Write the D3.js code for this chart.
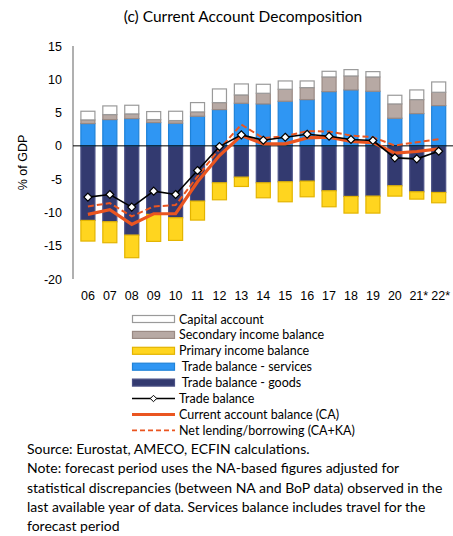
<!DOCTYPE html>
<meta charset="utf-8">
<style>
  body { margin: 0; background: #fff; }
  text { font-family: 'Liberation Sans', Arial, sans-serif; fill: #000; }
  .cal { font-family: Lato, 'Open Sans', sans-serif; }
</style>
<body>
<script src="https://cdn.jsdelivr.net/npm/d3@7"></script>
<script>

// categories (years)
var years = ["06","07","08","09","10","11","12","13","14","15","16","17","18","19","20","21*","22*"];

// stacked components, % of GDP
var goods     = [-11.2,-11.4,-13.4,-10.3,-10.8,-8.3,-5.55,-4.7,-5.55,-5.4,-5.3,-6.75,-7.6,-7.55,-6.0,-6.9,-7.0];
var primary   = [-3.1,-3.15,-3.4,-4.05,-3.4,-2.85,-2.55,-1.4,-2.25,-3.0,-2.35,-2.4,-2.5,-2.55,-1.55,-1.1,-1.55];
var services  = [3.35,3.95,4.1,3.5,3.4,4.45,5.45,6.4,6.3,6.7,6.95,8.15,8.4,8.2,4.15,4.85,6.05];
var secondary = [0.55,0.75,0.7,0.45,0.4,0.65,1.05,1.25,1.6,1.8,1.8,2.2,2.1,2.15,2.15,2.1,2.0];
var capital   = [1.3,1.3,1.3,1.2,1.4,1.4,2.05,1.65,1.35,1.25,1.0,0.85,0.95,0.8,1.3,1.45,1.55];

// lines
var tradeBal  = [-7.7,-7.3,-9.2,-6.8,-7.3,-3.7,-0.1,1.65,0.85,1.3,1.75,1.45,0.95,0.8,-1.8,-1.95,-0.8];
var caBal     = [-10.3,-9.6,-11.8,-10.2,-10.2,-5.4,-1.45,1.55,0.3,0.3,1.2,1.3,0.65,0.5,-1.1,-0.85,-0.45];
var netLend   = [-9.1,-8.6,-10.6,-9.1,-8.9,-4.6,-0.45,3.2,1.15,1.45,2.2,2.15,1.55,1.3,0.05,0.55,1.0];

var yTicks = [15,10,5,0,-5,-10,-15,-20];

var W = 453, H = 536;
var svg = d3.select("body").append("svg")
    .attr("width", W)
    .attr("height", H);

var x = d3.scaleBand()
    .domain(years)
    .range([73, 453.6])
    .padding(0.36);
var y = d3.scaleLinear()
    .domain([-20, 15])
    .range([279, 46]);

// title
svg.append("text")
    .attr("class", "cal")
    .attr("x", 243).attr("y", 22)
    .attr("text-anchor", "middle")
    .style("font-size", "15.5px")
    .text("(c) Current Account Decomposition");

// y axis
svg.append("line")
    .attr("x1", 73).attr("x2", 73)
    .attr("y1", y(15)).attr("y2", y(-20))
    .attr("stroke", "#868686").attr("stroke-width", 1.3);
svg.selectAll(".ytick")
    .data(yTicks)
  .enter().append("text")
    .attr("class", "ytick")
    .attr("x", 62)
    .attr("y", function(d) { return y(d) + 4.5; })
    .attr("text-anchor", "end")
    .style("font-size", "12.5px")
    .text(function(d) { return d; });

svg.append("text")
    .attr("transform", "translate(27," + y(-2.5) + ") rotate(-90)")
    .attr("text-anchor", "middle")
    .style("font-size", "12.5px")
    .text("% of GDP");

// stacked bars
var series = [
  {name: "goods", vals: goods, fill: "#333a70", stroke: "#4a5085"},
  {name: "primary", vals: primary, fill: "#ffd51f", stroke: "#e3b400"},
  {name: "services", vals: services, fill: "#2f96f3", stroke: "#1f82d8"},
  {name: "secondary", vals: secondary, fill: "#b7a9a4", stroke: "#9a8a84"},
  {name: "capital", vals: capital, fill: "#ffffff", stroke: "#9a9a9a"}
];

var pos = years.map(function() { return 0; }),
    neg = years.map(function() { return 0; });

series.forEach(function(s) {
  var segs = s.vals.map(function(v, i) {
    var base;
    if (v >= 0) { base = pos[i]; pos[i] += v; return {i: i, y0: base, y1: pos[i]}; }
    base = neg[i]; neg[i] += v; return {i: i, y0: base, y1: neg[i]};
  });
  svg.selectAll(".bar-" + s.name)
      .data(segs)
    .enter().append("rect")
      .attr("class", "bar-" + s.name)
      .attr("x", function(d) { return x(years[d.i]); })
      .attr("width", x.bandwidth())
      .attr("y", function(d) { return y(Math.max(d.y0, d.y1)); })
      .attr("height", function(d) { return Math.abs(y(d.y0) - y(d.y1)); })
      .attr("fill", s.fill)
      .attr("stroke", s.stroke)
      .attr("stroke-width", 1.2);
});

// zero line
svg.append("line")
    .attr("x1", 73).attr("x2", 453)
    .attr("y1", y(0)).attr("y2", y(0))
    .attr("stroke", "#000").attr("stroke-width", 1);

// x labels
svg.selectAll(".xlab")
    .data(years)
  .enter().append("text")
    .attr("class", "xlab")
    .attr("x", function(d) { return x(d) + x.bandwidth() / 2 + (d.indexOf("*") > -1 ? 2 : 0); })
    .attr("y", 300)
    .attr("text-anchor", "middle")
    .style("font-size", "12.5px")
    .text(function(d) { return d; });

var line = d3.line()
    .x(function(d, i) { return x(years[i]) + x.bandwidth() / 2; })
    .y(function(d) { return y(d); });

svg.append("path")
    .datum(netLend)
    .attr("d", line)
    .attr("fill", "none")
    .attr("stroke", "#ea5520")
    .attr("stroke-width", 2)
    .attr("stroke-dasharray", "6,3");

svg.append("path")
    .datum(caBal)
    .attr("d", line)
    .attr("fill", "none")
    .attr("stroke", "#ea5520")
    .attr("stroke-width", 3.2);

svg.append("path")
    .datum(tradeBal)
    .attr("d", line)
    .attr("fill", "none")
    .attr("stroke", "#000")
    .attr("stroke-width", 1.6);

var diamond = d3.symbol().type(d3.symbolDiamond2).size(40);
svg.selectAll(".tb")
    .data(tradeBal)
  .enter().append("path")
    .attr("class", "tb")
    .attr("d", diamond)
    .attr("transform", function(d, i) {
      return "translate(" + (x(years[i]) + x.bandwidth() / 2) + "," + y(d) + ")";
    })
    .attr("fill", "#fff")
    .attr("stroke", "#000")
    .attr("stroke-width", 1.2);

// legend
var legend = [
  {label: "Capital account", type: "rect", fill: "#ffffff", stroke: "#9a9a9a"},
  {label: "Secondary income balance", type: "rect", fill: "#b7a9a4", stroke: "#9a8a84"},
  {label: "Primary income balance", type: "rect", fill: "#ffd51f", stroke: "#e3b400"},
  {label: " Trade balance - services", type: "rect", fill: "#2f96f3", stroke: "#1f82d8"},
  {label: " Trade balance - goods", type: "rect", fill: "#333a70", stroke: "#4a5085"},
  {label: "Trade balance", type: "tb"},
  {label: "Current account balance (CA)", type: "ca"},
  {label: "Net lending/borrowing (CA+KA)", type: "nl"}
];

var lg = svg.selectAll(".lg")
    .data(legend)
  .enter().append("g")
    .attr("class", "lg")
    .attr("transform", function(d, i) { return "translate(132," + (319 + i * 15.9) + ")"; });

lg.each(function(d) {
  var g = d3.select(this);
  if (d.type === "rect") {
    g.append("rect")
        .attr("x", 0.5).attr("y", -3.5)
        .attr("width", 42).attr("height", 7)
        .attr("fill", d.fill).attr("stroke", d.stroke).attr("stroke-width", 1.2);
  } else if (d.type === "tb") {
    g.append("line").attr("x1", 0).attr("x2", 43).attr("y1", 0).attr("y2", 0)
        .attr("stroke", "#000").attr("stroke-width", 1.6);
    g.append("path").attr("d", d3.symbol().type(d3.symbolDiamond2).size(26))
        .attr("transform", "translate(21.5,0)")
        .attr("fill", "#fff").attr("stroke", "#000").attr("stroke-width", 1);
  } else if (d.type === "ca") {
    g.append("line").attr("x1", 0).attr("x2", 43).attr("y1", 0).attr("y2", 0)
        .attr("stroke", "#ea5520").attr("stroke-width", 3);
  } else {
    g.append("line").attr("x1", 0).attr("x2", 43).attr("y1", 0).attr("y2", 0)
        .attr("stroke", "#ea5520").attr("stroke-width", 1.8)
        .attr("stroke-dasharray", "5,3");
  }
  g.append("text")
      .attr("class", "cal")
      .attr("x", 47)
      .attr("y", 4.5)
      .attr("xml:space", "preserve")
      .style("white-space", "pre")
      .style("font-size", "12.5px")
      .text(d.label);
});

// notes
var notes = [
  "Source: Eurostat, AMECO, ECFIN calculations.",
  "Note: forecast period uses the NA-based figures adjusted for",
  "statistical discrepancies (between NA and BoP data) observed in the",
  "last available year of data. Services balance includes travel for the",
  "forecast period"
];
svg.selectAll(".note")
    .data(notes)
  .enter().append("text")
    .attr("class", "note cal")
    .attr("x", 27)
    .attr("y", function(d, i) { return 454 + i * 19.3; })
    .style("font-size", "14px")
    .text(function(d) { return d; });

</script>
</body>
